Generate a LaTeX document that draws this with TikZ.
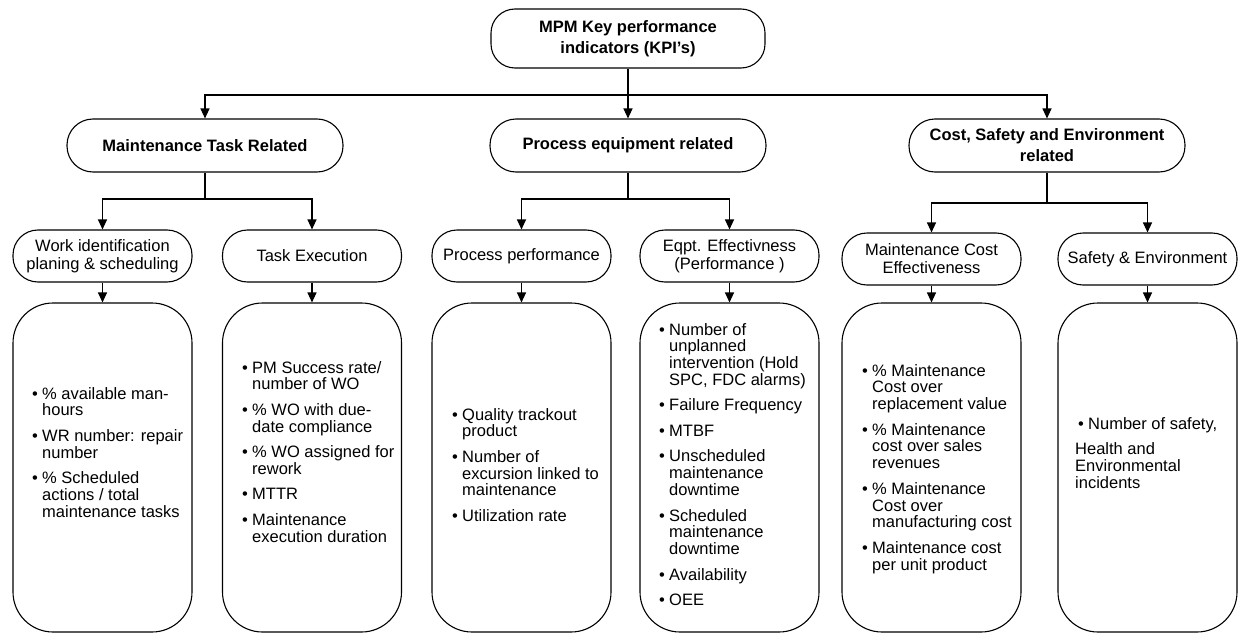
\documentclass[tikz,border=0pt]{standalone}
\usepackage{fontspec}
\setmainfont{Liberation Sans}
\usetikzlibrary{arrows.meta}
\newcommand{\bitem}[1]{\par\hangindent=10pt\hangafter=1\noindent\makebox[10pt][l]{\textbullet}#1}
\newcommand{\igap}{\par\vspace{8.7pt}}
\newcommand{\btext}[1]{\begin{minipage}[t]{178pt}#1\end{minipage}}
\tikzset{
  box/.style={draw=black, line width=1.1pt, fill=white, align=center, inner sep=2pt},
  topbox/.style={box, rounded corners=24pt, minimum width=274pt, minimum height=59pt,
    font=\fontsize{16.5}{21}\selectfont\bfseries},
  ltwobox/.style={box, rounded corners=26pt, minimum width=276pt, minimum height=53pt,
    font=\fontsize{16.5}{21}\selectfont\bfseries},
  lthreebox/.style={box, rounded corners=25pt, minimum width=179pt, minimum height=52pt,
    font=\fontsize{16.5}{18}\selectfont},
  lfourbox/.style={box, rounded corners=40pt, minimum width=179pt, minimum height=329pt},
  txt/.style={anchor=base west, inner sep=0pt, font=\fontsize{16.5}{16.8}\selectfont},
  ln/.style={line width=1.1pt},
  arr/.style={line width=1.1pt, -{Triangle[length=10pt,width=9pt]}},
}
\begin{document}
\begin{tikzpicture}[x=1pt,y=-1pt]
\fill[white] (0,0) rectangle (1242,634);
\useasboundingbox (0,0) rectangle (1242,634);

% top
\node[topbox] (top) at (628,38.5) {MPM Key performance\\indicators (KPI's)};

% level 2
\node[ltwobox] (l2a) at (205,145.5) {Maintenance Task Related};
\node[ltwobox] (l2b) at (628,145.5) {Process equipment related};
\node[ltwobox] (l2c) at (1047,145.5) {Cost, Safety and Environment\\related};

% level 3
\node[lthreebox] (l3a) at (102.5,256) {Work identification\\planing \& scheduling};
\node[lthreebox] (l3b) at (312,256) {Task Execution};
\node[lthreebox] (l3c) at (521.5,256) {Process performance};
\node[lthreebox] (l3d) at (729.5,256) {Eqpt. Effectivness\\(Performance )};
\node[lthreebox] (l3e) at (931.5,259) {Maintenance Cost\\Effectiveness};
\node[lthreebox] (l3f) at (1147.5,259) {Safety \& Environment};

% level 4 boxes
\node[lfourbox] (b1) at (102.5,467.5) {};
\node[lfourbox] (b2) at (312,467.5) {};
\node[lfourbox] (b3) at (521.5,467.5) {};
\node[lfourbox] (b4) at (729.5,467.5) {};
\node[lfourbox] (b5) at (931.5,467.5) {};
\node[lfourbox] (b6) at (1147.5,467.5) {};

% level 4 texts
\node[txt] (t1) at (32,399) {\btext{%
\bitem{\% available man-\\hours}\igap
\bitem{WR number: repair\\number}\igap
\bitem{\% Scheduled\\actions / total\\maintenance tasks}}};

\node[txt] (t2) at (242,373) {\btext{%
\bitem{PM Success rate/\\number of WO}\igap
\bitem{\% WO with due-\\date compliance}\igap
\bitem{\% WO assigned for\\rework}\igap
\bitem{MTTR}\igap
\bitem{Maintenance\\execution duration}}};

\node[txt] (t3) at (452,420) {\btext{%
\bitem{Quality trackout\\product}\igap
\bitem{Number of\\excursion linked to\\maintenance}\igap
\bitem{Utilization rate}}};

\node[txt] (t4) at (659,335) {\btext{%
\bitem{Number of\\unplanned\\intervention (Hold\\SPC, FDC alarms)}\igap
\bitem{Failure Frequency}\igap
\bitem{MTBF}\igap
\bitem{Unscheduled\\maintenance\\downtime}\igap
\bitem{Scheduled\\maintenance\\downtime}\igap
\bitem{Availability}\igap
\bitem{OEE}}};

\node[txt] (t5) at (862,376) {\btext{%
\bitem{\% Maintenance\\Cost over\\replacement value}\igap
\bitem{\% Maintenance\\cost over sales\\revenues}\igap
\bitem{\% Maintenance\\Cost over\\manufacturing cost}\igap
\bitem{Maintenance cost\\per unit product}}};

\node[txt] (t6) at (1078,429) {\btext{%
\bitem{Number of safety,}\igap
{\leftskip=-3pt\noindent Health and\\Environmental\\incidents\par}}};

% connectors top -> level 2
\coordinate (j0) at (628,95);
\draw[ln] (top.south) -- (j0);
\draw[arr] (j0) -| (l2a.north);
\draw[arr] (j0) -- (l2b.north);
\draw[arr] (j0) -| (l2c.north);

% level 2 -> level 3
\coordinate (ja) at (205,199);
\coordinate (jb) at (628,199);
\coordinate (jc) at (1047,203);
\draw[ln] (l2a.south) -- (ja);
\draw[ln] (l2b.south) -- (jb);
\draw[ln] (l2c.south) -- (jc);
\draw[arr] (ja) -| (l3a.north);
\draw[arr] (ja) -| (l3b.north);
\draw[arr] (jb) -| (l3c.north);
\draw[arr] (jb) -| (l3d.north);
\draw[arr] (jc) -| (l3e.north);
\draw[arr] (jc) -| (l3f.north);

% level 3 -> level 4
\draw[arr] (l3a.south) -- (b1.north);
\draw[arr] (l3b.south) -- (b2.north);
\draw[arr] (l3c.south) -- (b3.north);
\draw[arr] (l3d.south) -- (b4.north);
\draw[arr] (l3e.south) -- (b5.north);
\draw[arr] (l3f.south) -- (b6.north);
\end{tikzpicture}
\end{document}
